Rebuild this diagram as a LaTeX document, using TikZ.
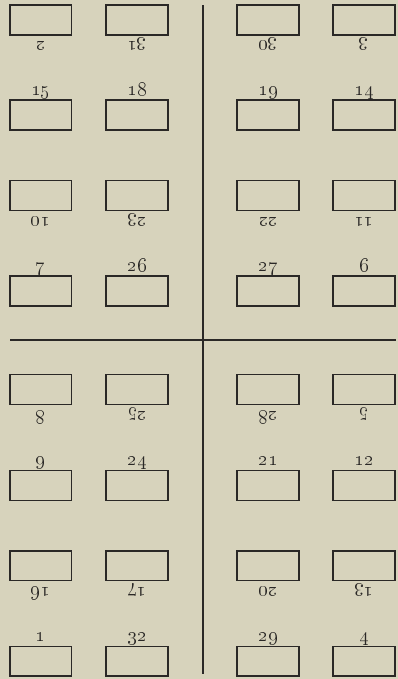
\documentclass[tikz,border=0pt]{standalone}
\usepackage{xcolor}
\definecolor{paper}{RGB}{215,211,188}
\definecolor{ink}{RGB}{42,40,38}
\usetikzlibrary{positioning}
\begin{document}
\begin{tikzpicture}[x=0.025cm,y=-0.025cm,
  page/.style={draw=ink,line width=1.1pt,minimum width=1.54cm,minimum height=0.74cm,inner sep=0pt},
  num/.style={font=\fontsize{13.5}{15}\selectfont,text=ink,inner sep=0pt},
  fold/.style={ink,line width=1.8pt}]
  % Sheet
  \fill[paper] (0,0) rectangle (398,679);
  \useasboundingbox (0,0) rectangle (398,679);
  % Folds
  \coordinate (vtop) at (203,5);
  \coordinate (vbot) at (203,674);
  \coordinate (hl) at (10,340);
  \coordinate (hr) at (396,340);
  \draw[fold] (vtop) -- (vbot);
  \draw[fold] (hl) -- (hr);
  % Pages head down, folio below
  \foreach \y/\na/\nb/\nc/\nd in {20/2/31/30/3, 195.5/10/23/22/11, 389.5/8/25/28/5, 565.7/16/17/20/13}{
    \foreach \x/\n in {40.8/\na,137/\nb,268/\nc,364/\nd}{
      \node[page] (p\n) at (\x,\y) {};
      \node[num,rotate=180,anchor=base] (n\n) at ([yshift=-0.16cm]p\n.south) {\oldstylenums{\n}};
    }
  }
  % Pages head up, folio above
  \foreach \y/\na/\nb/\nc/\nd in {115/15/18/19/14, 291/7/26/27/6, 485.5/9/24/21/12, 661.3/1/32/29/4}{
    \foreach \x/\n in {40.8/\na,137/\nb,268/\nc,364/\nd}{
      \node[page] (p\n) at (\x,\y) {};
      \node[num,anchor=base] (n\n) at ([yshift=0.11cm]p\n.north) {\oldstylenums{\n}};
    }
  }
\end{tikzpicture}
\end{document}
